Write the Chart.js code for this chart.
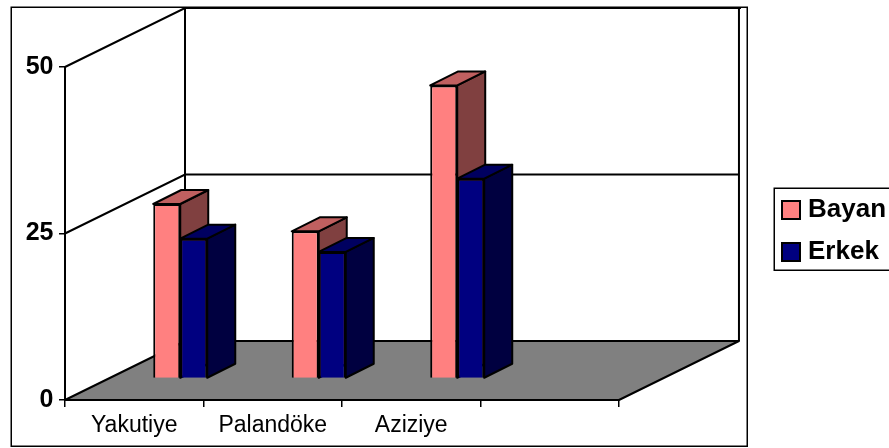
<!DOCTYPE html>
<html><head><meta charset="utf-8">
<style>html,body{margin:0;padding:0;background:#fff}#w{position:absolute;left:0;top:0;width:889px;height:448px}</style>
<script src="https://cdn.jsdelivr.net/npm/chart.js@4/dist/chart.umd.js"></script>
</head><body><div id="w"><canvas id="c" width="889" height="448"></canvas></div>
<script>
const categories = ['Yakutiye', 'Palandöke', 'Aziziye', ''];
const bayan = [26.2, 22.1, 44, null];
const erkek = [21, 19, 30, null];
const yTicks = [0, 25, 50];

const WALL = {dx: 120, dy: -59};
const PLANE = {dx: 46, dy: -21.5};
const BAR = {dx: 28, dy: -14};
const shades = [
  {top: '#C06060', side: '#804040'},
  {top: '#000060', side: '#000040'}
];

function poly(ctx, pts, fill, lw) {
  ctx.beginPath();
  pts.forEach((p, i) => i ? ctx.lineTo(p[0], p[1]) : ctx.moveTo(p[0], p[1]));
  ctx.closePath();
  if (fill) { ctx.fillStyle = fill; ctx.fill(); }
  ctx.lineWidth = lw; ctx.strokeStyle = '#000'; ctx.lineJoin = 'round'; ctx.stroke();
}
function line(ctx, pts, lw) {
  ctx.beginPath();
  pts.forEach((p, i) => i ? ctx.lineTo(p[0], p[1]) : ctx.moveTo(p[0], p[1]));
  ctx.lineWidth = lw; ctx.strokeStyle = '#000'; ctx.stroke();
}

const scene = {
  id: 'scene',
  afterLayout(chart) {
    const l = chart.legend;
    const w = l.width, h = l.height;
    l.left = 771; l.top = 181; l.right = l.left + w; l.bottom = l.top + h;
  },
  beforeDatasetsDraw(chart) {
    const {ctx, chartArea: a, scales: {y}} = chart;
    const x0 = a.left, x1 = a.right, yb = y.getPixelForValue(0), yt = y.getPixelForValue(50);
    const d = WALL;
    ctx.save();
    line(ctx, [[x0, yt], [x0 + d.dx, yt + d.dy], [x1 + d.dx + 2, yt + d.dy]], 2);
    line(ctx, [[x0 + d.dx, yt + d.dy], [x0 + d.dx, yb + d.dy]], 2);
    line(ctx, [[x1 + d.dx, yt + d.dy], [x1 + d.dx, yb + d.dy]], 2);
    yTicks.filter(v => v > 0 && v < 50).forEach(v => {
      const p = y.getPixelForValue(v);
      line(ctx, [[x0, p], [x0 + d.dx, p + d.dy], [x1 + d.dx, p + d.dy]], 2);
    });
    poly(ctx, [[x0, yb], [x0 + d.dx, yb + d.dy], [x1 + d.dx, yb + d.dy], [x1, yb]], '#808080', 2);
    ctx.restore();

    // Bars are drawn back-to-front here, each with its depth faces, so that
    // the second series' front face covers the first series' side face.
    chart.data.datasets.forEach((ds, i) => {
      const meta = chart.getDatasetMeta(i);
      const s = shades[i];
      ctx.save();
      ctx.translate(PLANE.dx, PLANE.dy);
      meta.data.forEach((el, k) => {
        if (ds.data[k] == null) return;
        const p = el.getProps(['x', 'y', 'base', 'width'], true);
        const l = p.x - p.width / 2, r = p.x + p.width / 2;
        poly(ctx, [[r, p.y], [r + BAR.dx, p.y + BAR.dy], [r + BAR.dx, p.base + BAR.dy], [r, p.base]], s.side, 2);
        poly(ctx, [[l, p.y], [l + BAR.dx, p.y + BAR.dy], [r + BAR.dx, p.y + BAR.dy], [r, p.y]], s.top, 2);
      });
      meta.controller.draw();
      ctx.restore();
    });
  },
  beforeDatasetDraw() { return false; },
  afterDraw(chart) {
    const ctx = chart.ctx;
    ctx.save();
    ctx.lineWidth = 1.5; ctx.strokeStyle = '#000';
    ctx.strokeRect(11.25, 7.25, 736, 439);
    ctx.strokeRect(774.25, 188.25, 120, 82);
    ctx.restore();
  }
};

new Chart(document.getElementById('c'), {
  type: 'bar',
  data: {
    labels: categories,
    datasets: [
      {label: 'Bayan', data: bayan, backgroundColor: '#FF8080', borderColor: '#000', borderWidth: 2},
      {label: 'Erkek', data: erkek, backgroundColor: '#000080', borderColor: '#000', borderWidth: 2}
    ]
  },
  options: {
    responsive: false,
    animation: false,
    layout: {padding: {top: 67, right: 145, bottom: 0, left: 0}},
    datasets: {bar: {categoryPercentage: 0.39, barPercentage: 1}},
    plugins: {
      tooltip: {enabled: false},
      legend: {
        position: 'right',
        align: 'start',
        labels: {
          usePointStyle: true, pointStyle: 'rect',
          boxWidth: 8, boxHeight: 18, padding: 16,
          color: '#000',
          font: {family: '"Liberation Sans", Arial, sans-serif', size: 26, weight: 'bold'}
        }
      }
    },
    scales: {
      x: {
        afterFit(s) { s.height = 48; },
        border: {color: '#000', width: 2},
        grid: {color: '#000', lineWidth: 1.5, drawOnChartArea: false, tickLength: 7, offset: true},
        ticks: {autoSkip: false, maxRotation: 0, color: '#000', padding: 5,
                font: {family: '"Liberation Sans", Arial, sans-serif', size: 23}}
      },
      y: {
        min: 0, max: 50,
        afterFit(s) { s.width = 65; },
        afterBuildTicks(s) { s.ticks = yTicks.map(v => ({value: v})); },
        border: {color: '#000', width: 2},
        grid: {color: '#000', lineWidth: 1.5, drawOnChartArea: false, tickLength: 6},
        ticks: {color: '#000', padding: 5.5,
                font: {family: '"Liberation Sans", Arial, sans-serif', size: 25, weight: 'bold'}}
      }
    }
  },
  plugins: [scene]
});
</script></body></html>
